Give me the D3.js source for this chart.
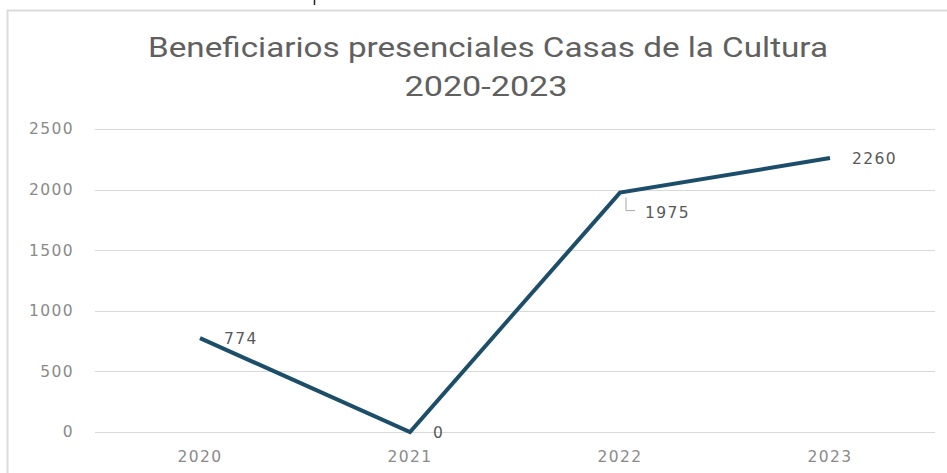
<!DOCTYPE html>
<html>
<head>
<meta charset="utf-8">
<script src="https://cdn.jsdelivr.net/npm/d3@7"></script>
<style>
  body { margin: 0; background: #fff; }
  svg { display: block; }
</style>
</head>
<body>
<svg width="947" height="473"></svg>
<script>
// datos
var years = ["2020", "2021", "2022", "2023"];
var beneficiarios = [774, 0, 1975, 2260];
var yTicks = [0, 500, 1000, 1500, 2000, 2500];
var titulo1 = "Beneficiarios presenciales Casas de la Cultura";
var titulo2 = "2020-2023";

var svg = d3.select("svg"),
    width = 947,
    height = 473;

var data = years.map(function(y, i) { return { year: y, value: beneficiarios[i] }; });

// marco del grafico
svg.append("path")
   .attr("d", "M7.5,473 L7.5,10.5 L947,10.5")
   .attr("fill", "none")
   .attr("stroke", "#dcdcdc")
   .attr("stroke-width", 2);

// pequeña marca negra arriba
svg.append("line")
   .attr("x1", 314.5).attr("x2", 314.5)
   .attr("y1", 0).attr("y2", 5)
   .attr("stroke", "#222")
   .attr("stroke-width", 1.5);

// titulo
svg.append("text")
   .attr("x", 488).attr("y", 57)
   .attr("text-anchor", "middle")
   .attr("font-family", "'Liberation Sans Narrow', 'Roboto', sans-serif")
   .attr("font-size", 28)
   .attr("fill", "#606060")
   .attr("textLength", 680)
   .attr("lengthAdjust", "spacingAndGlyphs")
   .text(titulo1);

svg.append("text")
   .attr("x", 486).attr("y", 96)
   .attr("text-anchor", "middle")
   .attr("font-family", "'Liberation Sans Narrow', 'Roboto', sans-serif")
   .attr("font-size", 28)
   .attr("fill", "#606060")
   .attr("textLength", 163)
   .attr("lengthAdjust", "spacingAndGlyphs")
   .text(titulo2);

var x = d3.scaleBand()
          .domain(years)
          .range([95, 935]);

var y = d3.scaleLinear()
          .domain([0, 2500])
          .range([432, 129]);

// lineas de cuadricula
svg.append("g")
   .selectAll("line")
   .data(yTicks)
   .enter().append("line")
   .attr("x1", 95).attr("x2", 935)
   .attr("y1", function(d) { return Math.round(y(d)) + 0.5; })
   .attr("y2", function(d) { return Math.round(y(d)) + 0.5; })
   .attr("stroke", "#d9d9d9")
   .attr("stroke-width", 1);

// eje y
var yAxis = svg.append("g")
   .attr("transform", "translate(74,0)")
   .call(d3.axisLeft(y).tickValues(yTicks).tickFormat(d3.format("d")).tickSize(0).tickPadding(0));
yAxis.select(".domain").remove();
yAxis.selectAll("text")
     .attr("font-family", "'DejaVu Sans', sans-serif")
     .attr("font-size", 15.5)
     .attr("letter-spacing", "1.4px")
     .attr("fill", "#8a8a8a");

// eje x
var xAxis = svg.append("g")
   .attr("transform", "translate(0,451)")
   .call(d3.axisBottom(x).tickSize(0).tickPadding(0));
xAxis.select(".domain").remove();
xAxis.selectAll("text")
     .attr("dy", "0.71em")
     .attr("font-family", "'DejaVu Sans', sans-serif")
     .attr("font-size", 15.5)
     .attr("letter-spacing", "1.4px")
     .attr("fill", "#8a8a8a");

var cx = function(d) { return x(d.year) + x.bandwidth() / 2; };

// linea
var line = d3.line()
             .x(cx)
             .y(function(d) { return y(d.value); });

svg.append("path")
   .datum(data)
   .attr("d", line)
   .attr("fill", "none")
   .attr("stroke", "#1d4e69")
   .attr("stroke-width", 4)
   .attr("stroke-linejoin", "miter");

// etiquetas de datos (desplazamientos)
var labelOffsets = [[24, 6], [23, 6], [25, 25], [22, 6]];

svg.append("g")
   .selectAll("text")
   .data(data)
   .enter().append("text")
   .attr("x", function(d, i) { return cx(d) + labelOffsets[i][0]; })
   .attr("y", function(d, i) { return y(d.value) + labelOffsets[i][1]; })
   .attr("font-family", "'DejaVu Sans', sans-serif")
   .attr("font-size", 15.5)
   .attr("letter-spacing", "1.4px")
   .attr("fill", "#595959")
   .text(function(d) { return d.value; });

// linea guia para 1975
var d2022 = data[2];
svg.append("path")
   .attr("d", "M" + (cx(d2022) + 6) + "," + (y(d2022.value) + 5) +
              " L" + (cx(d2022) + 6) + "," + (y(d2022.value) + 18) +
              " L" + (cx(d2022) + 15) + "," + (y(d2022.value) + 18))
   .attr("fill", "none")
   .attr("stroke", "#a6a6a6")
   .attr("stroke-width", 1);
</script>
</body>
</html>
